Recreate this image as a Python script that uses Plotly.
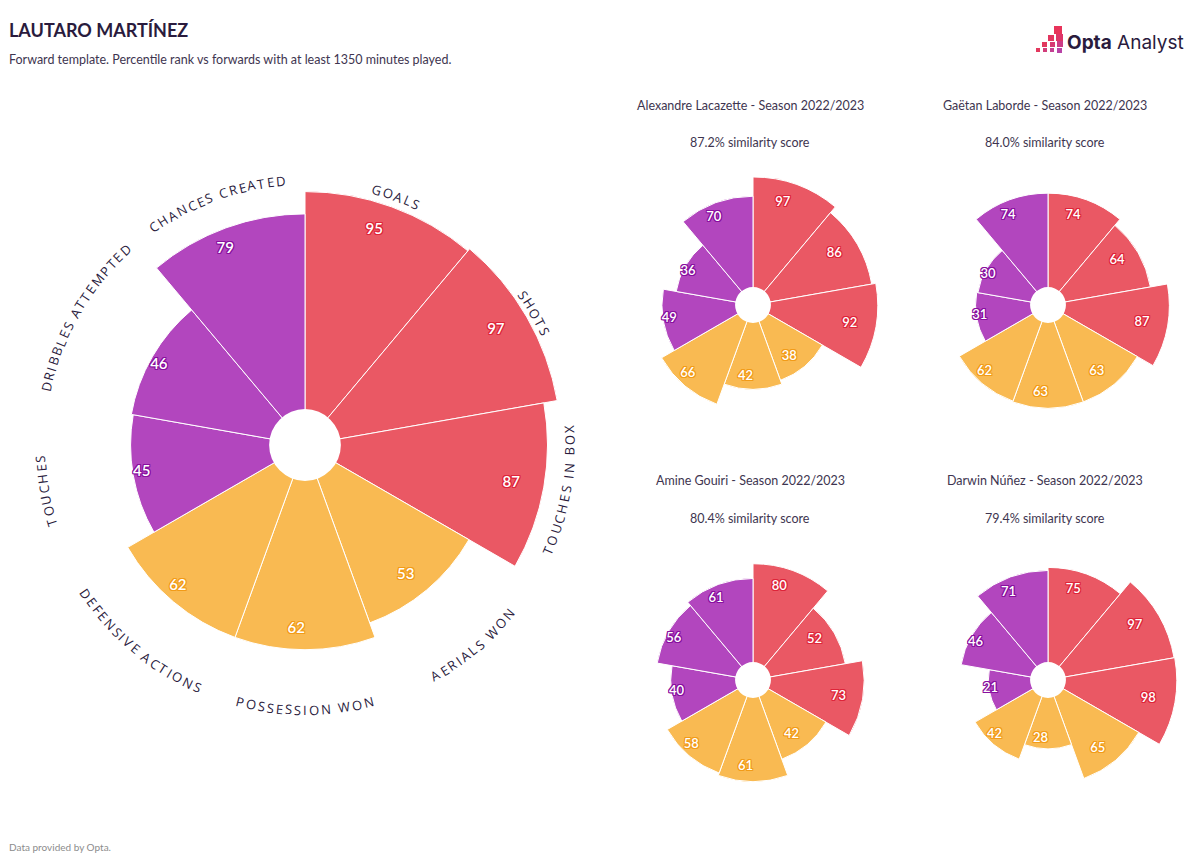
import math
import plotly.graph_objects as go

W, H = 1200, 861

# ---------------- data ----------------
categories = ["GOALS", "SHOTS", "TOUCHES IN BOX", "AERIALS WON", "POSSESSION WON",
              "DEFENSIVE ACTIONS", "TOUCHES", "DRIBBLES ATTEMPTED", "CHANCES CREATED"]
category_group = ["attack", "attack", "attack",
                  "defence", "defence", "defence",
                  "possession", "possession", "possession"]

main_player = "LAUTARO MARTÍNEZ"
subtitle = "Forward template. Percentile rank vs forwards with at least 1350 minutes played."
main_values = [95, 97, 87, 53, 62, 62, 45, 46, 79]

comp_names = ["Alexandre Lacazette", "Gaëtan Laborde", "Amine Gouiri", "Darwin Núñez"]
comp_season = "2022/2023"
comp_similarity = [87.2, 84.0, 80.4, 79.4]
lacazette_values = [97, 86, 92, 38, 42, 66, 49, 36, 70]
laborde_values = [74, 64, 87, 63, 63, 62, 31, 30, 74]
gouiri_values = [80, 52, 73, 42, 61, 58, 40, 56, 61]
nunez_values = [75, 97, 98, 65, 28, 42, 21, 46, 71]
comp_values = [lacazette_values, laborde_values, gouiri_values, nunez_values]

footer = "Data provided by Opta."

# ---------------- style ----------------
fill = {"attack": "#EA5864", "defence": "#F9BA52", "possession": "#B246BE"}
outline = {"attack": "#DE2439", "defence": "#F29B17", "possession": "#880F9E"}
DARK = "#2A1B3D"
TXT = "#3E3550"
NARROW = "Lato, Roboto, sans-serif"
LABEL_FONT = "Open Sans, Lato, sans-serif"
flip_labels = {"TOUCHES IN BOX", "AERIALS WON", "POSSESSION WON", "DEFENSIVE ACTIONS"}

fig = go.Figure()
annotations = []
shapes = []


def px_to_paper(x, y):
    return x / W, 1 - y / H


def add_radar(idx, values, cx, cy, R, label_size, label_frac):
    pname = "polar" if idx == 1 else f"polar{idx}"
    n = len(values)
    step = 360 / n
    theta = [i * step + step / 2 for i in range(n)]
    r = [math.sqrt(v / 100) for v in values]
    colors = [fill[g] for g in category_group]
    fig.add_trace(go.Barpolar(
        r=r, theta=theta, width=[step] * n,
        marker=dict(color=colors, line=dict(color="white", width=1)),
        subplot=pname, hoverinfo="skip", showlegend=False))
    # white hole in the middle
    fig.add_trace(go.Barpolar(
        r=[0.138], theta=[0], width=[360],
        marker=dict(color="white", line=dict(width=0)),
        subplot=pname, hoverinfo="skip", showlegend=False))
    for g in ["attack", "defence", "possession"]:
        ii = [i for i in range(n) if category_group[i] == g]
        c = outline[g]
        fig.add_trace(go.Scatterpolar(
            r=[r[i] * label_frac for i in ii], theta=[theta[i] for i in ii],
            mode="text", text=[str(values[i]) for i in ii],
            textposition="middle left",
            textfont=dict(color="white", size=label_size, family=NARROW, weight=600,
                          shadow=f"1px 0 0 {c}, -1px 0 0 {c}, 0 1px 0 {c}, 0 -1px 0 {c}, 1px 1px 0 {c}, -1px -1px 0 {c}, 1px -1px 0 {c}, -1px 1px 0 {c}"),
            subplot=pname, hoverinfo="skip", showlegend=False))
    x0, y1 = px_to_paper(cx - R, cy - R)
    x1, y0 = px_to_paper(cx + R, cy + R)
    fig.layout[pname] = dict(
        domain=dict(x=[x0, x1], y=[y0, y1]),
        bgcolor="rgba(0,0,0,0)", barmode="overlay",
        angularaxis=dict(visible=False, direction="clockwise", rotation=90,
                         showgrid=False),
        radialaxis=dict(visible=False, range=[0, 1], showgrid=False))
    return theta


# main chart
MCX, MCY, MR = 305, 445, 260
main_theta = add_radar(1, main_values, MCX, MCY, MR, 15, 0.9)

# curved category labels
char_w = {"A": .633, "B": .648, "C": .631, "D": .729, "E": .556, "F": .516, "G": .728,
          "H": .738, "I": .279, "L": .519, "M": .903, "N": .754, "O": .779, "P": .602,
          "R": .618, "S": .549, "T": .553, "U": .728, "V": .592, "W": .93, "X": .571,
          "Y": .563, " ": .26}
FS, TRACK, RHO = 13, 2.0, 265
for cat, th in zip(categories, main_theta):
    widths = [char_w.get(ch, .6) * FS + TRACK for ch in cat]
    total = sum(widths)
    s = -total / 2
    flip = cat in flip_labels
    for ch, w in zip(cat, widths):
        mid = s + w / 2
        s += w
        if ch == " ":
            continue
        dth = math.degrees(mid / RHO)
        a = th - dth if flip else th + dth
        ar = math.radians(a)
        x = MCX + RHO * math.sin(ar)
        y = MCY - RHO * math.cos(ar)
        px, py = px_to_paper(x, y)
        annotations.append(dict(
            x=px, y=py, xref="paper", yref="paper", text=ch, showarrow=False,
            xanchor="center", yanchor="middle",
            textangle=(a - 180) if flip else a,
            font=dict(family=LABEL_FONT, size=FS, color=DARK)))

# comparison charts
small_centers = [(753, 305), (1048, 305), (753, 680), (1048, 680)]
SR = 130
for k, (vals, (cx, cy)) in enumerate(zip(comp_values, small_centers)):
    add_radar(k + 2, vals, cx, cy, SR, 13, 0.85)
    tx, ty = px_to_paper(cx - 3, cy - 200)
    annotations.append(dict(x=tx, y=ty, xref="paper", yref="paper", showarrow=False,
                            text=f"{comp_names[k]} - Season {comp_season}",
                            xanchor="center", yanchor="middle",
                            font=dict(family=NARROW, size=12.5, color=TXT)))
    tx, ty = px_to_paper(cx - 3, cy - 162)
    annotations.append(dict(x=tx, y=ty, xref="paper", yref="paper", showarrow=False,
                            text=f"{comp_similarity[k]:.1f}% similarity score",
                            xanchor="center", yanchor="middle",
                            font=dict(family=NARROW, size=12.5, color=TXT)))

# titles
annotations.append(dict(x=7 / W, y=1 - 30 / H, xref="paper", yref="paper", showarrow=False,
                        text=f"<b>{main_player}</b>", xanchor="left", yanchor="middle",
                        font=dict(family=NARROW, size=18, color=DARK)))
annotations.append(dict(x=7 / W, y=1 - 60 / H, xref="paper", yref="paper", showarrow=False,
                        text=subtitle, xanchor="left", yanchor="middle",
                        font=dict(family=NARROW, size=12.5, color=TXT)))
annotations.append(dict(x=7 / W, y=1 - 847 / H, xref="paper", yref="paper", showarrow=False,
                        text=footer, xanchor="left", yanchor="middle",
                        font=dict(family=NARROW, size=10, color="#8C8C8C")))

# logo
annotations.append(dict(x=1186 / W, y=1 - 42 / H, xref="paper", yref="paper", showarrow=False,
                        text="<b>Opta</b> Analyst", xanchor="right", yanchor="middle",
                        font=dict(family="Inter, Lato, sans-serif", size=19, color=DARK)))
logo_squares = [
    (1054, 26, 8, "#E8335A"),
    (1048, 35, 6, "#E2355F"), (1056, 34, 7, "#DD3568"),
    (1042, 42, 5, "#E2385E"), (1050, 42, 5, "#D63A74"), (1057, 41, 6, "#CC3C86"),
    (1036, 48, 4, "#E3395F"), (1043, 48, 4, "#D23C7A"), (1050, 48, 4, "#C43F92"),
    (1057, 48, 5, "#B842A6"),
]
for (sx, sy, sz, col) in logo_squares:
    x0, y1 = px_to_paper(sx, sy)
    x1, y0 = px_to_paper(sx + sz, sy + sz)
    shapes.append(dict(type="rect", xref="paper", yref="paper", x0=x0, x1=x1, y0=y0, y1=y1,
                       fillcolor=col, line=dict(width=0)))

fig.update_layout(
    width=W, height=H, margin=dict(l=0, r=0, t=0, b=0),
    paper_bgcolor="white", plot_bgcolor="white",
    showlegend=False, annotations=annotations, shapes=shapes)

fig.write_html("out.html", config={"displayModeBar": False},
               post_script="document.body.style.margin='0';")
